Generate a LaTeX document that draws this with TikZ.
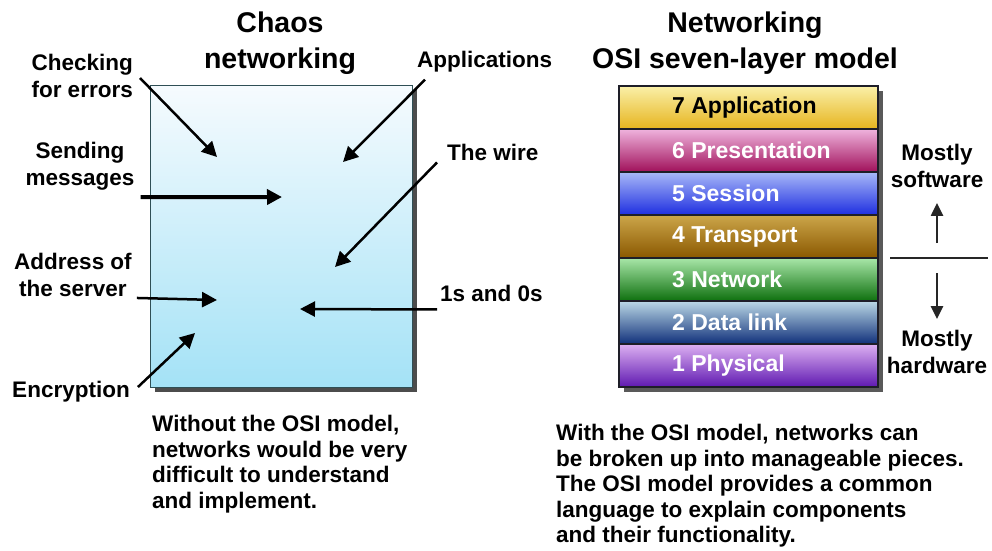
\documentclass[tikz,border=0pt]{standalone}
\usepackage{fontspec}
\setmainfont{Liberation Sans}
\usetikzlibrary{arrows.meta}

\definecolor{chaostop}{HTML}{F6FBFE}
\definecolor{chaosbot}{HTML}{A4E2F6}
\definecolor{chaosedge}{HTML}{2F4F55}
\definecolor{layeredge}{HTML}{1E1E28}
\definecolor{apptop}{HTML}{FAF0A8}
\definecolor{appbot}{HTML}{E6B41E}
\definecolor{prestop}{HTML}{EFB3DD}
\definecolor{presbot}{HTML}{A0105A}
\definecolor{sesstop}{HTML}{A8B8F8}
\definecolor{sessbot}{HTML}{1E2EE0}
\definecolor{transtop}{HTML}{CCA64A}
\definecolor{transbot}{HTML}{8A5800}
\definecolor{nettop}{HTML}{A8E6A8}
\definecolor{netbot}{HTML}{0E700E}
\definecolor{linktop}{HTML}{BBD8E6}
\definecolor{linkbot}{HTML}{10307A}
\definecolor{phystop}{HTML}{DDB0F2}
\definecolor{physbot}{HTML}{5E18B0}

\tikzstyle{lbl}=[font=\fontsize{22.5}{27}\selectfont\bfseries,align=center,inner sep=0pt]
\tikzstyle{ttl}=[font=\fontsize{28.5}{36}\selectfont\bfseries,align=center,inner sep=0pt]
\tikzstyle{body}=[font=\fontsize{22.5}{25.5}\selectfont\bfseries,align=left,inner sep=0pt,anchor=north west]
\tikzstyle{laytxt}=[font=\fontsize{23}{27}\selectfont\bfseries,anchor=west,inner sep=0pt]
\tikzstyle{arr}=[line width=2.5pt,-{Triangle[length=15pt,width=15pt]}]
\tikzstyle{arrs}=[line width=2.5pt,black!85,-{Triangle[length=13pt,width=12pt]}]

\begin{document}
\begin{tikzpicture}[x=1pt,y=-1pt]
    \useasboundingbox (0,0) rectangle (992,550);

    % chaos box
    \fill[black!70] (155,90) rectangle (417,392);
    \shade[top color=chaostop,bottom color=chaosbot,draw=chaosedge,line width=1pt] (150,85) rectangle (412,387);
    \node[ttl] (chaos) at (280,43) {Chaos\\networking};

    \node[lbl,align=right,anchor=east] (chk) at (133,76) {Checking\\for errors};
    \node[lbl,anchor=west] (app) at (417,62) {Applications};
    \node[lbl] (snd) at (80,166) {Sending\\messages};
    \node[lbl,anchor=west] (wire) at (447,152) {The wire};
    \node[lbl] (adr) at (73,275) {Address of\\the server};
    \node[lbl,anchor=west] (ones) at (440,293) {1s and 0s};
    \node[lbl] (enc) at (71,392) {Encryption};

    \coordinate (chkT) at (217,157);
    \coordinate (appT) at (343,162);
    \coordinate (sndT) at (282,197);
    \coordinate (wireT) at (335,267);
    \coordinate (adrT) at (217,300);
    \coordinate (onesT) at (300,309);
    \coordinate (encT) at (195,333);

    \draw[arr] ([shift={(7,2)}]chk.east) -- (chkT);
    \draw[arr] ([shift={(8,7)}]app.south west) -- (appT);
    \draw[arr,line width=4pt] ([shift={(6,7)}]snd.south east) -- (sndT);
    \draw[arr] ([shift={(-10,2)}]wire.south west) -- (wireT);
    \draw[arr] ([shift={(5,1)}]adr.south east) -- (adrT);
    \draw[arr] ([shift={(-3,8)}]ones.south west) -- (onesT);
    \draw[arr] ([shift={(8,-5)}]enc.east) -- (encT);

    \node[body] (leftnote) at (152,415) {Without the OSI model,\\networks would be very\\difficult to understand\\and implement.};

    % osi stack
    \node[ttl] (osi) at (745,43) {Networking\\OSI seven-layer model};
    \fill[black!65] (624,91) rectangle (883,392);
    \foreach \n/\name/\tc/\bc/\fc in {7/Application/apptop/appbot/black,6/Presentation/prestop/presbot/white,
        5/Session/sesstop/sessbot/white,4/Transport/transtop/transbot/white,3/Network/nettop/netbot/white,
        2/Data link/linktop/linkbot/white,1/Physical/phystop/physbot/white}
    {
        \pgfmathsetmacro\yt{86+43*(7-\n)}
        \shade[top color=\tc,bottom color=\bc,draw=layeredge,line width=1.2pt] (619,\yt) rectangle (878,\yt+43);
        \node[laytxt,text=\fc] (l\n) at (672,\yt+21.5) {\n\ \name};
    }

    \node[lbl] (soft) at (937,166) {Mostly\\software};
    \node[lbl] (hard) at (937,352) {Mostly\\hardware};
    \coordinate (sepL) at (890,258);
    \coordinate (sepR) at (988,258);
    \coordinate (upS) at (937,243);
    \coordinate (dnS) at (937,273);
    \draw[line width=2pt,black!85] (sepL) -- (sepR);
    \draw[arrs,shorten >=15pt] (upS) -- (soft);
    \draw[arrs,shorten >=11pt] (dnS) -- (hard);

    \node[body] (rightnote) at (556,424) {With the OSI model, networks can\\be broken up into manageable pieces.\\The OSI model provides a common\\language to explain components\\and their functionality.};
\end{tikzpicture}
\end{document}
